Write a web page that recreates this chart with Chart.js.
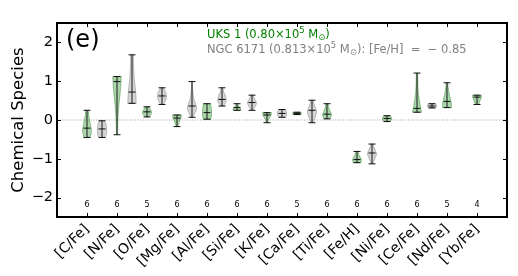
<!DOCTYPE html>
<html>
<head>
<meta charset="utf-8">
<script src="https://cdn.jsdelivr.net/npm/chart.js@4.4.1/dist/chart.umd.min.js"></script>
<style>
  html, body { margin: 0; padding: 0; background: #fff; }
  #wrap { width: 518px; height: 276px; }
</style>
</head>
<body>
<div id="wrap"><canvas id="chart"></canvas></div>
<script>
/* Violin comparison: UKS 1 (green) vs NGC 6171 (gray), one column per species. */
const categories = ['[C/Fe]', '[N/Fe]', '[O/Fe]', '[Mg/Fe]', '[Al/Fe]', '[Si/Fe]', '[K/Fe]',
                    '[Ca/Fe]', '[Ti/Fe]', '[Fe/H]', '[Ni/Fe]', '[Ce/Fe]', '[Nd/Fe]', '[Yb/Fe]'];
const counts = [6, 6, 5, 6, 6, 6, 6, 5, 6, 6, 6, 6, 5, 4];
const yTicks = [-2, -1, 0, 1, 2];

// UKS 1 (green)
const uksMin = [-0.45, -0.38, 0.08, -0.17, 0.02, 0.25, -0.07, 0.14, 0.03, -1.10, -0.04, 0.20, 0.32, 0.40];
const uksMed = [-0.21, 0.99, 0.21, 0.05, 0.19, 0.32, 0.13, 0.17, 0.15, -1.02, 0.04, 0.30, 0.48, 0.59];
const uksMax = [0.25, 1.12, 0.34, 0.13, 0.42, 0.42, 0.19, 0.20, 0.42, -0.81, 0.11, 1.21, 0.96, 0.64];
// relative density, bottom -> top
const uksDensity = [
  [0.7, 1, 0.75, 0.45, 0.3], [0.1, 0.2, 0.4, 0.75, 0.95], [0.4, 0.9, 1, 0.7, 0.4],
  [0.2, 0.4, 0.6, 0.9, 1], [0.85, 1, 1, 0.95, 0.8], [0.9, 0.8, 0.55, 0.3, 0.15],
  [0.15, 0.3, 0.6, 0.9, 1], [0.6, 1, 1, 1, 0.6], [0.6, 1, 0.7, 0.4, 0.25],
  [0.8, 1, 0.7, 0.4, 0.3], [0.6, 1, 1, 1, 0.6], [1, 0.6, 0.3, 0.2, 0.15],
  [1, 0.9, 0.55, 0.3, 0.2], [0.4, 0.55, 0.75, 0.95, 1]
];

// NGC 6171 (gray), null where not plotted
const ngcMin = [-0.45, 0.43, 0.40, 0.07, 0.36, 0.25, 0.07, -0.07, null, -1.13, null, 0.31, null, null];
const ngcMed = [-0.23, 0.72, 0.62, 0.36, 0.53, 0.45, 0.17, 0.25, null, -0.85, null, 0.36, null, null];
const ngcMax = [-0.02, 1.68, 0.83, 0.99, 0.83, 0.64, 0.27, 0.51, null, -0.62, null, 0.42, null, null];
const ngcDensity = [
  [0.7, 1, 1, 0.95, 0.6], [0.95, 0.8, 0.5, 0.35, 0.3], [0.3, 0.8, 1, 0.8, 0.3],
  [0.2, 1, 0.45, 0.15, 0.08], [0.3, 0.9, 0.85, 0.4, 0.2], [0.2, 0.7, 1, 0.6, 0.2],
  [0.7, 1, 1, 1, 0.7], [0.2, 0.7, 1, 0.6, 0.15], null,
  [0.15, 0.6, 1, 0.6, 0.2], null, [0.6, 1, 1, 1, 0.6], null, null
];

const FONT = '"DejaVu Sans", sans-serif';
const GREEN_FILL = 'rgba(0,128,0,0.33)', GREEN_EDGE = 'rgba(0,110,0,0.45)';
const GRAY_FILL = 'rgba(128,128,128,0.33)', GRAY_EDGE = 'rgba(90,90,90,0.45)';
const HALF_W = 0.15;          // violin half width in x units
const NGC_SHIFT = 0.5;        // gray violins sit half a column right

const groups = [
  { min: uksMin, med: uksMed, max: uksMax, dens: uksDensity, dx: 0, fill: GREEN_FILL, edge: GREEN_EDGE },
  { min: ngcMin, med: ngcMed, max: ngcMax, dens: ngcDensity, dx: NGC_SHIFT, fill: GRAY_FILL, edge: GRAY_EDGE }
];

function markerPoints(g) {
  const pts = [];
  categories.forEach((_, i) => {
    if (g.min[i] == null) return;
    pts.push({ x: i + g.dx, y: g.min[i] }, { x: i + g.dx, y: g.med[i] }, { x: i + g.dx, y: g.max[i] });
  });
  return pts;
}

// catmull-rom through side points
function smoothSide(ctx, pts) {
  for (let k = 0; k < pts.length - 1; k++) {
    const p0 = pts[Math.max(k - 1, 0)], p1 = pts[k], p2 = pts[k + 1], p3 = pts[Math.min(k + 2, pts.length - 1)];
    ctx.bezierCurveTo(p1[0] + (p2[0] - p0[0]) / 6, p1[1] + (p2[1] - p0[1]) / 6,
                      p2[0] - (p3[0] - p1[0]) / 6, p2[1] - (p3[1] - p1[1]) / 6, p2[0], p2[1]);
  }
}

const violins = {
  id: 'violins',
  beforeDatasetsDraw(c) {
    const { ctx, chartArea: a, scales: { x, y } } = c;
    ctx.save();
    // dotted zero line
    ctx.strokeStyle = '#9a9a9a'; ctx.lineWidth = 0.9; ctx.setLineDash([1, 1.6]);
    ctx.beginPath(); ctx.moveTo(a.left, y.getPixelForValue(0)); ctx.lineTo(a.right, y.getPixelForValue(0)); ctx.stroke();
    ctx.setLineDash([]);

    groups.forEach(g => {
      categories.forEach((_, i) => {
        if (g.min[i] == null) return;
        const xc = x.getPixelForValue(i + g.dx);
        const hw = x.getPixelForValue(i + g.dx + HALF_W) - xc;
        const d = g.dens[i], n = d.length;
        const right = [], left = [];
        d.forEach((w, k) => {
          const py = y.getPixelForValue(g.min[i] + (g.max[i] - g.min[i]) * k / (n - 1));
          right.push([xc + w * hw, py]);
          left.unshift([xc - w * hw, py]);
        });
        ctx.beginPath();
        ctx.moveTo(right[0][0], right[0][1]);
        smoothSide(ctx, right);
        ctx.lineTo(left[0][0], left[0][1]);
        smoothSide(ctx, left);
        ctx.closePath();
        ctx.fillStyle = g.fill; ctx.fill();
        ctx.strokeStyle = g.edge; ctx.lineWidth = 0.8; ctx.stroke();
        // min-max stem
        ctx.strokeStyle = '#1a1a1a'; ctx.lineWidth = 1;
        ctx.beginPath(); ctx.moveTo(xc, y.getPixelForValue(g.min[i])); ctx.lineTo(xc, y.getPixelForValue(g.max[i])); ctx.stroke();
      });
    });
    ctx.restore();
  },
  afterDraw(c) {
    const { ctx, chartArea: a, scales: { x, y } } = c;
    ctx.save();
    // frame + inward ticks on all sides
    ctx.strokeStyle = '#000'; ctx.lineWidth = 1;
    ctx.beginPath();
    categories.forEach((_, i) => {
      const px = Math.round(x.getPixelForValue(i)) + 0.5;
      ctx.moveTo(px, a.top); ctx.lineTo(px, a.top + 4);
      ctx.moveTo(px, a.bottom); ctx.lineTo(px, a.bottom - 4);
    });
    yTicks.forEach(v => {
      const py = Math.round(y.getPixelForValue(v)) + 0.5;
      ctx.moveTo(a.left, py); ctx.lineTo(a.left + 4, py);
      ctx.moveTo(a.right, py); ctx.lineTo(a.right - 4, py);
    });
    ctx.stroke();
    ctx.lineWidth = 2;
    ctx.strokeRect(a.left, a.top, a.right - a.left, a.bottom - a.top);

    // sample sizes
    ctx.fillStyle = '#000'; ctx.font = '8px ' + FONT; ctx.textAlign = 'center'; ctx.textBaseline = 'middle';
    counts.forEach((n, i) => ctx.fillText(String(n), x.getPixelForValue(i), y.getPixelForValue(-2.2)));

    // panel letter
    ctx.textAlign = 'left'; ctx.textBaseline = 'alphabetic';
    ctx.font = '24px ' + FONT;
    ctx.fillText('(e)', a.left + 9, a.top + 24);

    // legend text with super/subscripts
    const rich = (x0, y0, color, parts) => {
      let cx = x0;
      ctx.fillStyle = color;
      parts.forEach(([t, size, dy]) => {
        ctx.font = size + 'px ' + FONT;
        ctx.fillText(t, cx, y0 + dy);
        cx += ctx.measureText(t).width;
      });
    };
    const tx = a.left + 150;
    rich(tx, a.top + 14.8, 'green', [['UKS 1 (0.80×10', 11.5, 0], ['5', 8.5, -4.5], [' M', 11.5, 0], ['⊙', 8.5, 2], [')', 11.5, 0]]);
    rich(tx, a.top + 29.6, '#808080', [['NGC 6171 (0.813×10', 11.5, 0], ['5', 8.5, -4.5], [' M', 11.5, 0], ['⊙', 8.5, 2], ['): [Fe/H]  =  − 0.85', 11.5, 0]]);
    ctx.restore();
  }
};

const markerStyle = { type: 'scatter', showLine: false, pointStyle: 'line', pointRadius: 3.5,
                      pointBorderColor: '#111', pointBorderWidth: 1, pointHoverRadius: 3.5 };

new Chart(document.getElementById('chart'), {
  type: 'scatter',
  data: {
    datasets: groups.map((g, k) => ({ ...markerStyle, label: k ? 'NGC 6171' : 'UKS 1', data: markerPoints(g) }))
  },
  options: {
    responsive: true, maintainAspectRatio: false, animation: false, events: [],
    layout: { padding: { top: 23, right: 11, left: 0, bottom: 0 } },
    plugins: { legend: { display: false }, tooltip: { enabled: false } },
    scales: {
      x: {
        type: 'linear', min: -1, max: 14,
        afterBuildTicks: s => { s.ticks = categories.map((_, i) => ({ value: i })); },
        afterFit: s => { s.height = 59; },
        grid: { display: false, drawTicks: false }, border: { display: false },
        ticks: { autoSkip: false, maxRotation: 45, minRotation: 45, padding: 4, color: '#000',
                 font: { family: FONT, size: 14 }, callback: v => categories[v] }
      },
      y: {
        min: -2.5, max: 2.5,
        afterBuildTicks: s => { s.ticks = yTicks.map(v => ({ value: v })); },
        afterFit: s => { s.width = 57; },
        grid: { display: false, drawTicks: false }, border: { display: false },
        ticks: { padding: 4, color: '#000', font: { family: FONT, size: 14.5 },
                 callback: v => (v < 0 ? '\u2212' + Math.abs(v) : String(v)) },
        title: { display: true, text: 'Chemical Species', color: '#000',
                 font: { family: FONT, size: 16.5 }, padding: { top: 9, bottom: 0 } }
      }
    }
  },
  plugins: [violins]
});
</script>
</body>
</html>
